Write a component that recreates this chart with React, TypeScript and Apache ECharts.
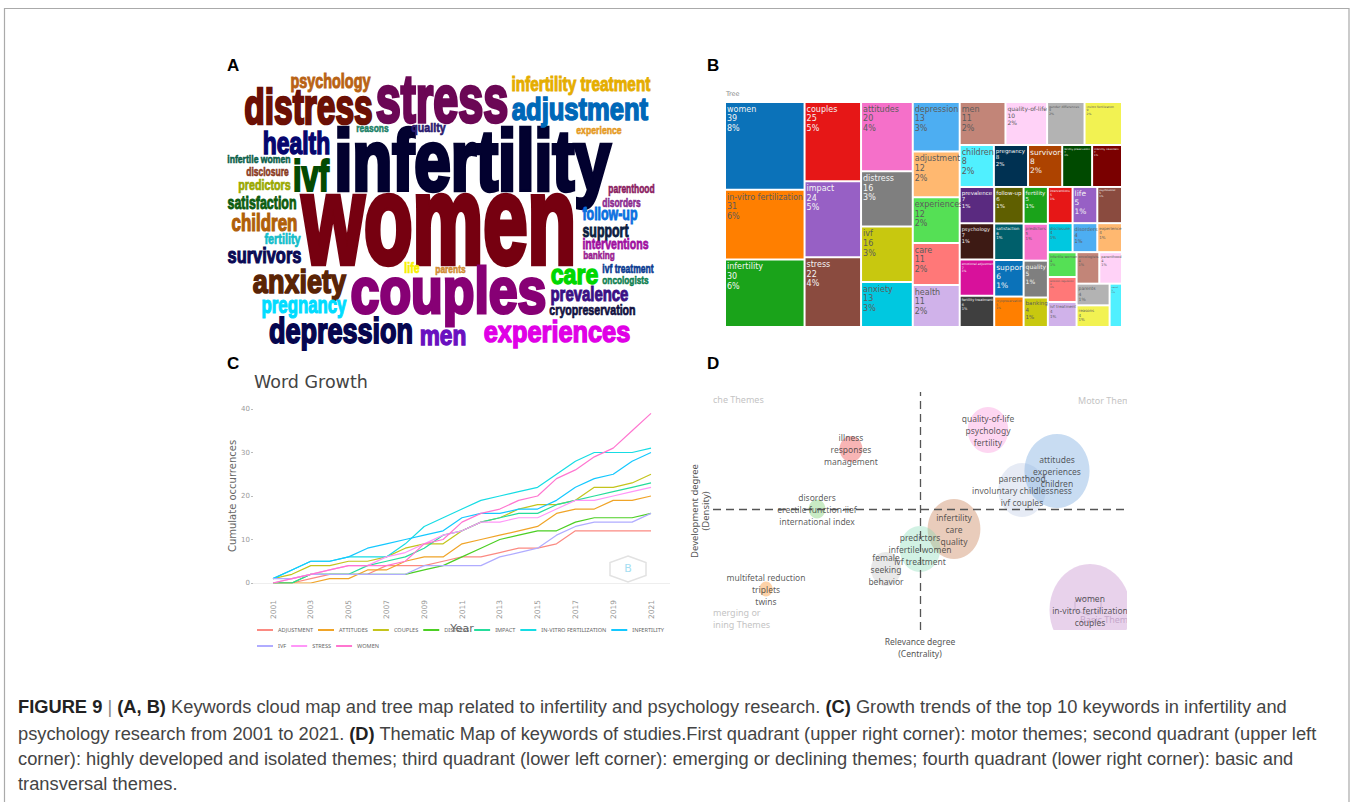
import React, { useEffect, useRef } from "react";
import * as echarts from "echarts";

// ---- Panel A: word cloud (layout units of the hidden cloud axes)
const cloudWords = ["women","infertility","couples","stress","distress","adjustment","psychology","infertility treatment","health","ivf","reasons","quality","experience","infertile women","disclosure","predictors","satisfaction","children","fertility","survivors","anxiety","pregnancy","depression","men","experiences","care","life","parents","ivf treatment","oncologists","prevalence","cryopreservation","parenthood","disorders","follow-up","support","interventions","banking"];
const cloudStart = [299,332,349,374,243,511,290,511,262,292,356,411,576,227,246,238,227,231,264,227,252,261,268,419,483,550,404,435,602,602,550,549,608,602,582,582,582,583];
const cloudEnd = [579,613,548,510,374,649,371,651,331,330,389,446,622,291,289,291,297,298,301,302,347,347,414,467,631,599,420,466,654,649,629,636,655,641,638,629,649,615];
const cloudBaseline = [263,190,313,122,124,120,88,91,154,191,132,132,134,163,176,190,208,231,244,263,293,313,343,345,342,284,273,273,273,284,301,315,193,207,220,237,249,259];
const cloudWeight = [125,86,64,66,50,32,20,20,32,44,10,13,11,11,12,14,19,24,15,22,34,24,36,28,30,28,14,11,12,11,20,14,12,12,18,18,15,11];
const cloudColors = ["#760010","#02012f","#870075","#6b0755","#6b1005","#0068b8","#b96314","#e5ad00","#06066e","#044a02","#1a7f66","#2a1a6e","#e59a1f","#0b5f4a","#8a3a22","#9aa800","#0d5c0f","#b05f0a","#12bdc9","#0a0a55","#5a2405","#00dcff","#06064f","#6a10c0","#e000e6","#00d800","#f8f000","#d08a30","#0a3a90","#0f8050","#3a1085","#101040","#8a1a60","#8a2a90","#0a70e0","#0c2040","#a010a0","#9a2090"];

// ---- Panel B: tree map
const treeNames = ["women","in-vitro fertilization","infertility","couples","impact","stress","attitudes","distress","ivf","anxiety","depression","adjustment","experiences","care","health","men","quality-of-life","gender differences","invitro fertilization","children","pregnancy","survivors","fertility preservation","infertility treatment","prevalence","psychology","emotional adjustment","fertility treatment","follow-up","satisfaction","support","cryopreservation","fertility","predictors","quality","banking","interventions","life","psychosocial","disclosure","disorders","experience","infertile women","emotion regulation","ivf treatment","oncologists","parenthood","parents","reasons","sexual"];
const treeValues = [39,31,30,25,24,22,20,16,16,13,13,12,12,11,11,11,10,9,9,8,8,8,7,7,7,7,7,6,6,6,6,5,5,5,5,4,5,5,5,4,4,4,4,4,4,4,4,4,4,3];
const treePercents = [8,6,6,5,5,4,4,3,3,3,3,2,2,2,2,2,2,2,2,2,2,2,1,1,1,1,1,1,1,1,1,1,1,1,1,1,1,1,1,1,1,1,1,1,1,1,1,1,1,1];
const treeColors = ["#0b72b9","#ff7f00","#1aa31a","#e61717","#9760c5","#8a4b3f","#f570c9","#7f7f7f","#c8c80f","#00c8e0","#4daef2","#ffb870","#55e055","#ff7878","#d0b2ea","#c28578","#ffd2f7","#b3b3b3","#f2f252","#50f0ff","#003152","#ad4300","#004a00","#7a0000","#5a2a80","#3d1a14","#d8119b","#3f3f3f","#5f5f00","#005f6b","#0b72b9","#ff7f00","#1aa31a","#f570c9","#7f7f7f","#c8c80f","#e61717","#9760c5","#8a4b3f","#00c8e0","#4daef2","#ffb870","#55e055","#ff7878","#d0b2ea","#c28578","#ffd2f7","#b3b3b3","#f2f252","#50f0ff"];
const treeDarkText = [0,1,0,0,0,0,1,0,1,1,1,1,1,1,1,1,1,1,1,1,0,0,0,0,0,0,0,0,0,0,0,1,0,1,0,1,0,0,0,1,1,1,1,1,1,1,1,1,1,1];
const treeFonts = [8,8,8,8,8,8,8,8,8,8,8,8,8,8,8,8,6,3.2,3,8,5.5,7.5,2.5,2.5,5.5,5,3,3.5,5.5,4,7.5,3,5.5,4,6,5.5,3,7.5,2.5,4,5,4,3.5,2.5,4,3.5,3.5,4.5,4,2];
type TreeNode = number | { dir: "h" | "v"; kids: TreeNode[] };
const H = (...kids: TreeNode[]): TreeNode => ({ dir: "h", kids });
const V = (...kids: TreeNode[]): TreeNode => ({ dir: "v", kids });
const treeNesting = H(
  V(0, 1, 2), V(3, 4, 5), V(6, 7, 8, 9), V(10, 11, 12, 13, 14),
  V(
    H(15, 16, 17, 18),
    H(19, 20, 21, 22, 23),
    H(
      V(24, 25, 26, 27), V(28, 29, 30, 31), V(32, 33, 34, 35),
      V(H(36, 37, 38), H(39, 40, 41), H(V(42, 43, 44), V(H(45, 46), H(V(47, 48), 49)))),
    ),
  ),
);
const nodeSum = (n: TreeNode): number => typeof n === "number" ? treeValues[n] : n.kids.reduce((a, k) => a + nodeSum(k), 0);
function sliceTree(n: TreeNode, x0: number, y0: number, x1: number, y1: number, out: number[][]) {
  if (typeof n === "number") { out.push([x0, y0, x1, y1, n]); return out; }
  const total = nodeSum(n);
  let at = n.dir === "h" ? x0 : y0;
  const span = n.dir === "h" ? x1 - x0 : y1 - y0;
  n.kids.forEach((k) => {
    const next = at + span * nodeSum(k) / total;
    if (n.dir === "h") sliceTree(k, at, y0, next, y1, out); else sliceTree(k, x0, at, x1, next, out);
    at = next;
  });
  return out;
}

// ---- Panel C: word growth
const years = ["2001","2002","2003","2004","2005","2006","2007","2008","2009","2010","2011","2012","2013","2014","2015","2016","2017","2018","2019","2020","2021"];
const adjustment = [0,0,1,2,2,2,4,4,4,5,6,6,7,8,8,9,12,12,12,12,12];
const attitudes = [0,0,0,1,1,3,3,5,6,6,9,10,11,12,13,16,17,17,19,19,20];
const couples = [1,2,4,4,5,5,6,8,9,9,12,14,15,17,18,18,19,22,22,23,25];
const distress = [0,0,2,2,2,2,2,2,3,4,6,8,10,11,12,12,14,15,15,15,16];
const impact = [0,0,2,2,2,4,5,6,8,11,12,14,15,16,16,18,19,20,21,22,23];
const inVitro = [1,3,5,5,6,6,6,9,13,15,17,19,20,21,22,25,28,30,30,30,31];
const infertility = [1,3,5,5,6,8,9,10,11,12,15,16,16,17,17,19,22,24,25,28,30];
const ivf = [1,1,2,2,2,2,2,2,4,4,4,4,6,7,8,11,13,14,14,14,16];
const stress = [0,1,2,3,4,4,6,7,9,11,12,14,14,15,15,17,19,19,20,21,22];
const women = [0,1,2,3,4,4,4,5,9,10,14,16,17,19,20,24,26,29,31,35,39];
const growthNames = ["ADJUSTMENT","ATTITUDES","COUPLES","DISTRESS","IMPACT","IN-VITRO FERTILIZATION","INFERTILITY","IVF","STRESS","WOMEN"];
const growthValues = [adjustment,attitudes,couples,distress,impact,inVitro,infertility,ivf,stress,women];
const growthColors = ["#fb8a82","#f0a428","#c4c41c","#4ccf24","#26dc9c","#16dce4","#14c8ff","#b0acff","#ff96f8","#ff76d0"];

// ---- Panel D: thematic map
const themeLabels = ["illness\nresponses\nmanagement","quality-of-life\npsychology\nfertility","parenthood\ninvoluntary childlessness\nivf couples","attitudes\nexperiences\nchildren","disorders\nerectile function-iief\ninternational index","infertility\ncare\nquality","predictors\ninfertile women\nivf treatment","female\nseeking\nbehavior","multifetal reduction\ntriplets\ntwins","women\nin-vitro fertilization\ncouples"];
const themeCentrality = [-0.69,0.68,1.02,1.37,-1.03,0.34,0,-0.34,-1.54,1.70];
const themeDensity = [0.60,0.79,0.19,0.38,0,-0.20,-0.40,-0.60,-0.80,-1.01];
const themeSize = [26,46,54,74,19,60,46,34,15,92];
const themeColors = ["rgba(240,100,100,.6)","rgba(250,170,225,.6)","rgba(180,195,225,.42)","rgba(130,175,225,.55)","rgba(120,205,110,.5)","rgba(205,140,100,.55)","rgba(130,220,180,.45)","rgba(190,190,190,.45)","rgba(250,175,100,.7)","rgba(190,130,200,.45)"];

const captionLines = [
  "{b|FIGURE 9} {s||} {b|(A, B)} Keywords cloud map and tree map related to infertility and psychology research. {b|(C)} Growth trends of the top 10 keywords in infertility and",
  "psychology research from 2001 to 2021. {b|(D)} Thematic Map of keywords of studies.First quadrant (upper right corner): motor themes; second quadrant (upper left",
  "corner): highly developed and isolated themes; third quadrant (lower left corner): emerging or declining themes; fourth quadrant (lower right corner): basic and",
  "transversal themes.",
];
const captionY = [706, 733, 758, 783];
const panelLetters = ["A","B","C","D"];
const quadrantTexts = ["che Themes","Motor Them","merging or","ining Themes","Basic Them"];

const measure = document.createElement("canvas").getContext("2d");
const cloudFamily = '"Liberation Sans Narrow","Liberation Sans",sans-serif';
const captionFont = 18.3;

function hexPoints(cx: number, cy: number, w: number, h: number) {
  return [[cx, cy - h], [cx + w, cy - h / 2], [cx + w, cy + h / 2], [cx, cy + h], [cx - w, cy + h / 2], [cx - w, cy - h / 2]];
}

function buildOption(): any {
  const cloudData = cloudWords.map((_, i) => [cloudStart[i], cloudBaseline[i], cloudEnd[i], i]);
  const treeCells = sliceTree(treeNesting, 0, 0, 1, 1, []);
  return {
    animation: false,
    backgroundColor: "#fff",
    title: {
      text: "Word Growth", left: 254, top: 373, padding: 0,
      textStyle: { fontFamily: "DejaVu Sans", fontSize: 17.5, fontWeight: "normal", color: "#444" },
    },
    grid: [
      { left: 220, top: 50, width: 450, height: 305 },
      { left: 273, top: 409, width: 378, height: 174 },
      { left: 713, top: 392, width: 414, height: 238 },
      { left: 725, top: 102, width: 397, height: 225 },
    ],
    xAxis: [
      { gridIndex: 0, type: "value", min: 220, max: 670, show: false },
      {
        gridIndex: 1, type: "category", data: years, boundaryGap: false,
        axisLine: { lineStyle: { color: "#eee" } }, axisTick: { show: false },
        axisLabel: { interval: 1, rotate: 90, margin: 17, fontSize: 7.5, color: "#999", fontFamily: "DejaVu Sans" },
        name: "Year", nameLocation: "middle", nameGap: 38,
        nameTextStyle: { fontSize: 11, color: "#666", fontFamily: "DejaVu Sans" },
      },
      {
        gridIndex: 2, type: "value", min: -2.07, max: 2.07,
        axisLine: { show: false }, axisTick: { show: false }, axisLabel: { show: false }, splitLine: { show: false },
        name: "Relevance degree\n(Centrality)", nameLocation: "middle", nameGap: 5,
        nameTextStyle: { fontSize: 8.5, lineHeight: 12, color: "#555", fontFamily: "Noto Sans", verticalAlign: "top" },
      },
      { gridIndex: 3, type: "value", min: 0, max: 1, show: false },
    ],
    yAxis: [
      { gridIndex: 0, type: "value", min: 50, max: 355, inverse: true, show: false },
      {
        gridIndex: 1, type: "value", min: 0, max: 40, interval: 10, offset: 20,
        axisLine: { show: false }, axisTick: { show: true, length: 2, lineStyle: { color: "#bbb" } },
        splitLine: { show: false },
        axisLabel: { fontSize: 7, margin: 3, color: "#999", fontFamily: "DejaVu Sans" },
        name: "Cumulate occurrences", nameLocation: "middle", nameGap: 14,
        nameTextStyle: { fontSize: 10, color: "#666", fontFamily: "DejaVu Sans" },
      },
      {
        gridIndex: 2, type: "value", min: -1.21, max: 1.17,
        axisLine: { show: false }, axisTick: { show: false }, axisLabel: { show: false }, splitLine: { show: false },
        name: "Development degree\n(Density)", nameLocation: "middle", nameGap: 2,
        nameTextStyle: { fontSize: 9.5, lineHeight: 11, color: "#555", fontFamily: "Noto Sans" },
      },
      { gridIndex: 3, type: "value", min: 0, max: 1, inverse: true, show: false },
    ],
    legend: {
      left: 256, top: 624, width: 415, itemGap: 4, itemWidth: 16, itemHeight: 1, padding: 0,
      data: growthNames,
      textStyle: { fontSize: 5.6, lineHeight: 12, color: "#666", fontFamily: "Noto Sans" },
    },
    series: [
      {
        type: "custom", coordinateSystem: "cartesian2d", xAxisIndex: 0, yAxisIndex: 0, data: cloudData, silent: true, clip: false,
        renderItem: (_p: any, api: any) => {
          const i = api.value(3);
          const start = api.coord([api.value(0), api.value(1)]);
          const end = api.coord([api.value(2), api.value(1)]);
          const fs = cloudWeight[i];
          const font = `bold ${fs}px ${cloudFamily}`;
          measure!.font = font;
          const natural = measure!.measureText(cloudWords[i]).width || 1;
          const stroke = fs * 0.05;
          return {
            type: "text", x: start[0] + stroke / 2, y: start[1] - fs * 0.3465,
            scaleX: (end[0] - start[0] - stroke) / natural,
            style: { text: cloudWords[i], x: 0, y: 0, font, fill: cloudColors[i], stroke: cloudColors[i], lineWidth: stroke, align: "left", verticalAlign: "middle" },
          };
        },
      },
      {
        type: "custom", coordinateSystem: "cartesian2d", xAxisIndex: 3, yAxisIndex: 3, data: treeCells, silent: true, clip: false,
        renderItem: (_p: any, api: any) => {
          const i = api.value(4);
          const a = api.coord([api.value(0), api.value(1)]);
          const b = api.coord([api.value(2), api.value(3)]);
          const fs = treeFonts[i];
          return {
            type: "group",
            children: [
              { type: "rect", shape: { x: a[0] + 1, y: a[1] + 1, width: b[0] - a[0] - 2, height: b[1] - a[1] - 2 }, style: { fill: treeColors[i] } },
              {
                type: "text", x: a[0] + 2, y: a[1] + 2.5,
                style: {
                  text: `${treeNames[i]}\n${treeValues[i]}\n${treePercents[i]}%`,
                  font: `${fs}px "DejaVu Sans"`, lineHeight: fs * 1.2,
                  fill: treeDarkText[i] ? "#5c5c5c" : "#f4f4f4", align: "left", verticalAlign: "top",
                },
              },
            ],
          };
        },
      },
      ...growthNames.map((name, i) => ({
        type: "line", name, xAxisIndex: 1, yAxisIndex: 1, data: growthValues[i],
        symbol: "none", showSymbol: false, lineStyle: { width: 1.2, color: growthColors[i] }, itemStyle: { color: growthColors[i] },
      })),
      {
        type: "scatter", xAxisIndex: 2, yAxisIndex: 2, clip: true, silent: true,
        data: themeLabels.map((l, i) => ({
          name: l, value: [themeCentrality[i], themeDensity[i], themeSize[i]],
          itemStyle: { color: themeColors[i] },
        })),
        symbolSize: (v: number[]) => [v[2] * 0.88, v[2]],
        label: { show: true, position: "inside", formatter: "{b}", fontFamily: "Noto Sans", fontSize: 8.5, lineHeight: 12, color: "#333" },
        markLine: {
          silent: true, symbol: "none", label: { show: false },
          lineStyle: { type: [8, 5], color: "#555", width: 1.3 },
          data: [{ xAxis: 0 }, { yAxis: 0 }],
        },
      },
    ],
    graphic: [
      { type: "rect", shape: { x: 4.5, y: 8.5, width: 1344.5, height: 810 }, style: { fill: "none", stroke: "#aaa", lineWidth: 1.2 }, z: -1 },
      { type: "rect", shape: { x: 1127, y: 392, width: 14, height: 238 }, style: { fill: "#fff" }, z: 100 },
      { type: "rect", shape: { x: 1040, y: 630, width: 100, height: 30 }, style: { fill: "#fff" }, z: 100 },
      { type: "line", shape: { x1: 253, y1: 583.5, x2: 670, y2: 583.5 }, style: { stroke: "#eee", lineWidth: 1 }, z: 1 },
      { type: "polygon", shape: { points: hexPoints(628, 569, 18, 13) }, style: { fill: "none", stroke: "#e2e2e2", lineWidth: 1.5 } },
      { type: "text", x: 628, y: 568, style: { text: "B", fill: "#a5def2", font: "11px DejaVu Sans", align: "center", verticalAlign: "middle" } },
      { type: "polygon", shape: { points: hexPoints(1088, 606, 13, 9) }, style: { fill: "none", stroke: "#cfcfd8", lineWidth: 1 } },
      { type: "text", x: 726, y: 94, style: { text: "Tree", fill: "#888", font: "6.5px DejaVu Sans", align: "left", verticalAlign: "middle" } },
      ...panelLetters.map((t, i) => ({
        type: "text", x: i % 2 ? 707 : 227, y: i < 2 ? 65 : 363,
        style: { text: t, fill: "#000", font: 'bold 17px "Liberation Sans"', align: "left", verticalAlign: "middle" },
      })),
      ...quadrantTexts.map((t, i) => ({
        type: "text", x: [713, 1078, 713, 713, 1080][i], y: [399, 400, 612, 624, 619][i],
        style: { text: t, fill: i === 4 ? "#c8bccc" : "#c4c4c4", font: '9px "Noto Sans"', align: "left", verticalAlign: "middle" },
      })),
      ...captionLines.map((t, i) => ({
        type: "text", x: 18, y: captionY[i],
        style: {
          text: t, fill: "#444", font: `${captionFont}px "Liberation Sans"`, align: "left", verticalAlign: "middle",
          rich: {
            b: { font: `bold ${captionFont}px "Liberation Sans"`, fill: "#222" },
            s: { font: `${captionFont}px "Liberation Sans"`, fill: "#888" },
          },
        },
      })),
    ],
  };
}

export default function App() {
  const ref = useRef<HTMLDivElement>(null);
  useEffect(() => {
    document.body.style.margin = "0";
    const chart = echarts.init(ref.current!, undefined, { renderer: "svg" });
    chart.setOption(buildOption());
    return () => chart.dispose();
  }, []);
  return <div ref={ref} style={{ position: "absolute", left: 0, top: 0, width: 1352, height: 802 }} />;
}
